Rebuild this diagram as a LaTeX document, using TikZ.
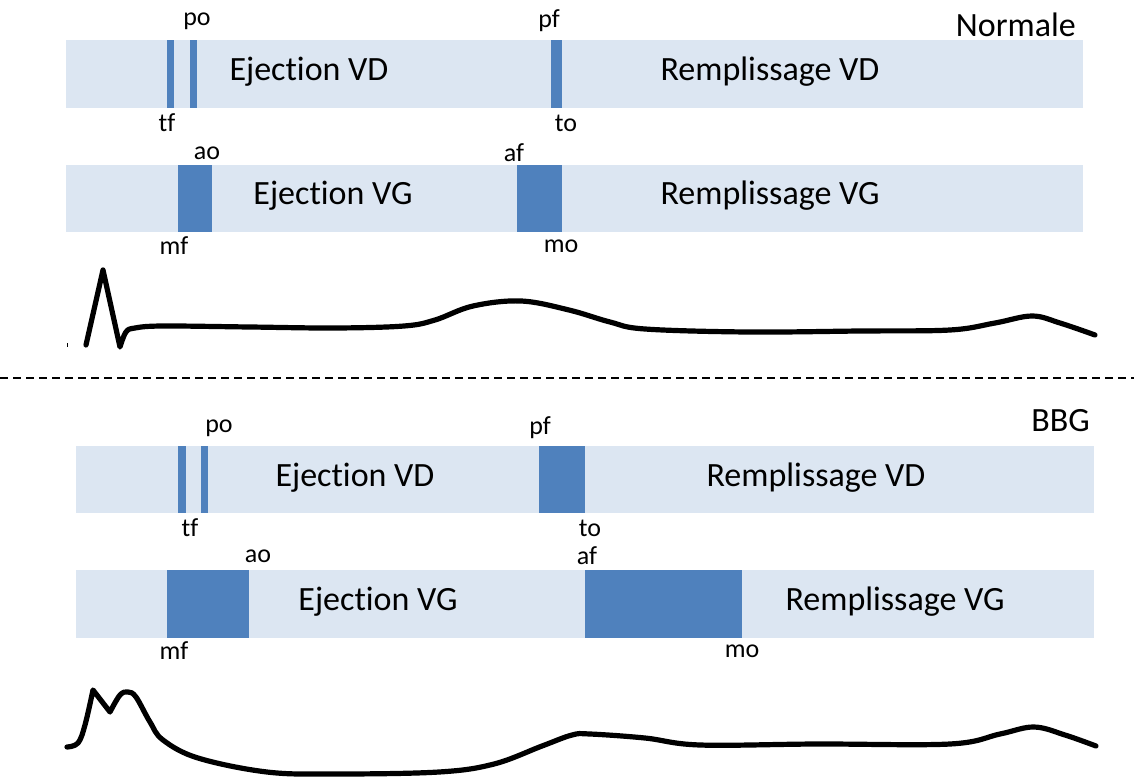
\documentclass[tikz,border=0pt]{standalone}
\usepackage{fontspec}
\setmainfont[Ligatures={NoCommon,NoRare}]{Carlito}
\definecolor{barbg}{HTML}{DCE6F2}
\definecolor{valve}{HTML}{4F81BD}
\newcommand{\ejec}{Eject\kern0pt ion}
\tikzset{
  x=1pt, y=-1pt,
  phase/.style={fill=barbg},
  valvebox/.style={fill=valve},
  big/.style={font=\fontsize{34}{34}\selectfont, inner sep=0pt},
  small/.style={font=\fontsize{26}{26}\selectfont, inner sep=0pt},
  curve/.style={line width=5.2pt, line join=round, line cap=round, black},
}
\begin{document}
\begin{tikzpicture}
\useasboundingbox (0,0) rectangle (1134,776);
% ---------- Normale ----------
\node[big, anchor=east] (tnorm) at (1076,25) {Normale};
\fill[phase] (66,40) rectangle (1083,108);
\fill[valvebox] (167,40) rectangle (174,108);
\fill[valvebox] (190,40) rectangle (197,108);
\fill[valvebox] (551,40) rectangle (562,108);
\node[big] (evd1) at (309,72) {\ejec{} VD};
\node[big] (rvd1) at (770,72) {Remplissage VD};
\node[small] (po1) at (197,21) {po};
\node[small] (tf1) at (167,123) {tf};
\node[small] (pf1) at (549,21) {pf};
\node[small] (to1) at (566,123) {to};
\fill[phase] (66,165) rectangle (1083,232);
\fill[valvebox] (178,165) rectangle (212,232);
\fill[valvebox] (517,165) rectangle (562,232);
\node[big] (evg1) at (333,196) {\ejec{} VG};
\node[big] (rvg1) at (770,196) {Remplissage VG};
\node[small] (ao1) at (207,153) {ao};
\node[small] (mf1) at (174,246) {mf};
\node[small] (af1) at (514,153) {af};
\node[small] (mo1) at (561,246) {mo};
\draw[curve] (86,345) -- (103,270) -- (120,347) -- plot[smooth, tension=0.6] coordinates {(120,347) (126,332) (135,328) (163,326) (250,327) (335,328) (404,326) (435,320) (473,306) (521,301) (569,310) (610,322) (645,329) (748,332) (860,331) (950,330) (995,323) (1032,316) (1060,323) (1095,335)};
\draw[line width=0.6pt] (67,343) -- (67,347);
% separator
\draw[line width=1.6pt, dash pattern=on 8pt off 5pt] (0,378) -- (1134,378);
% ---------- BBG ----------
\node[big, anchor=east] (tbbg) at (1090,421) {BBG};
\fill[phase] (76,446) rectangle (1094,513);
\fill[valvebox] (178,446) rectangle (186,513);
\fill[valvebox] (201,446) rectangle (208,513);
\fill[valvebox] (539,446) rectangle (585,513);
\node[big] (evd2) at (355,478) {\ejec{} VD};
\node[big] (rvd2) at (816,478) {Remplissage VD};
\node[small] (po2) at (219,428) {po};
\node[small] (tf2) at (190,528) {tf};
\node[small] (pf2) at (540,428) {pf};
\node[small] (to2) at (590,528) {to};
\fill[phase] (76,570) rectangle (1094,638);
\fill[valvebox] (167,570) rectangle (249,638);
\fill[valvebox] (585,570) rectangle (742,638);
\node[big] (evg2) at (378,602) {\ejec{} VG};
\node[big] (rvg2) at (895,602) {Remplissage VG};
\node[small] (ao2) at (258,556) {ao};
\node[small] (mf2) at (174,651) {mf};
\node[small] (af2) at (587,556) {af};
\node[small] (mo2) at (742,651) {mo};
\draw[curve] plot[smooth, tension=0.6] coordinates {(67,747) (78,743) (85,725) (93,690)} -- (110,712) -- plot[smooth, tension=0.6] coordinates {(110,712) (120,695) (128,692) (136,697) (150,722) (163,740) (198,758) (267,772) (335,774) (439,772) (494,764) (542,746) (572,735) (590,734) (645,738) (700,745) (817,744) (950,744) (1000,734) (1034,727) (1065,735) (1096,746)};
\end{tikzpicture}
\end{document}
